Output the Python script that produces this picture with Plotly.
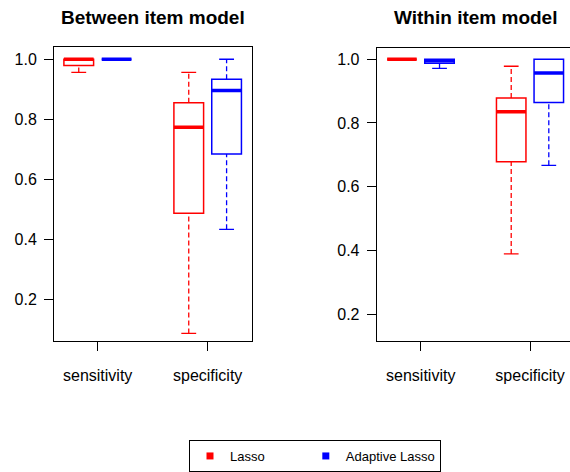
import plotly.graph_objects as go

# Box-plot summaries (lower whisker, Q1, median, Q3, upper whisker)
categories = ["sensitivity", "specificity"]
methods = ["Lasso", "Adaptive Lasso"]
colors = {"Lasso": "#ff0000", "Adaptive Lasso": "#0000ff"}

between_lasso_low = [0.956, 0.086]
between_lasso_q1 = [0.979, 0.487]
between_lasso_med = [1.000, 0.773]
between_lasso_q3 = [1.000, 0.855]
between_lasso_high = [1.000, 0.956]

between_alasso_low = [1.000, 0.433]
between_alasso_q1 = [1.000, 0.684]
between_alasso_med = [1.000, 0.896]
between_alasso_q3 = [1.000, 0.933]
between_alasso_high = [1.000, 1.000]

within_lasso_low = [1.000, 0.389]
within_lasso_q1 = [1.000, 0.678]
within_lasso_med = [1.000, 0.835]
within_lasso_q3 = [1.000, 0.878]
within_lasso_high = [1.000, 0.978]

within_alasso_low = [0.971, 0.667]
within_alasso_q1 = [0.987, 0.864]
within_alasso_med = [0.995, 0.957]
within_alasso_q3 = [1.000, 1.000]
within_alasso_high = [1.000, 1.000]

panel_titles = ["Between item model", "Within item model"]
y_ticks = [0.2, 0.4, 0.6, 0.8, 1.0]

panels = [
    {
        "Lasso": (between_lasso_low, between_lasso_q1, between_lasso_med,
                  between_lasso_q3, between_lasso_high),
        "Adaptive Lasso": (between_alasso_low, between_alasso_q1, between_alasso_med,
                           between_alasso_q3, between_alasso_high),
    },
    {
        "Lasso": (within_lasso_low, within_lasso_q1, within_lasso_med,
                  within_lasso_q3, within_lasso_high),
        "Adaptive Lasso": (within_alasso_low, within_alasso_q1, within_alasso_med,
                           within_alasso_q3, within_alasso_high),
    },
]

FONT = "Liberation Sans, Arial, sans-serif"
W, H = 570, 472
offsets = {"Lasso": -0.172, "Adaptive Lasso": 0.172}
box_w = 0.27
cap_half = box_w / 4

fig = go.Figure()

for p, data in enumerate(panels):
    xa = "x" if p == 0 else "x2"
    ya = "y" if p == 0 else "y2"
    for m in methods:
        low, q1, med, q3, high = data[m]
        col = colors[m]
        xs = [i + 1 + offsets[m] for i in range(len(categories))]
        # box body (whiskers handled separately so they can be dashed)
        fig.add_trace(go.Box(
            x=xs, q1=q1, median=med, q3=q3, lowerfence=q1, upperfence=q3,
            width=box_w, fillcolor="rgba(0,0,0,0)",
            line=dict(color=col, width=1.5), xaxis=xa, yaxis=ya,
            showlegend=False, hoverinfo="skip", boxpoints=False,
        ))
        for x, lo, a, md, b, hi in zip(xs, low, q1, med, q3, high):
            # dashed whiskers
            wx, wy = [], []
            if lo < a:
                wx += [x, x, None]
                wy += [lo, a, None]
            if hi > b:
                wx += [x, x, None]
                wy += [b, hi, None]
            if wx:
                fig.add_trace(go.Scatter(
                    x=wx, y=wy, mode="lines", xaxis=xa, yaxis=ya,
                    line=dict(color=col, width=1.3, dash="5px,3px"),
                    showlegend=False, hoverinfo="skip"))
            # whisker caps
            cx, cy = [], []
            if lo < a:
                cx += [x - cap_half, x + cap_half, None]
                cy += [lo, lo, None]
            if hi > b:
                cx += [x - cap_half, x + cap_half, None]
                cy += [hi, hi, None]
            if cx:
                fig.add_trace(go.Scatter(
                    x=cx, y=cy, mode="lines", xaxis=xa, yaxis=ya,
                    line=dict(color=col, width=1.3),
                    showlegend=False, hoverinfo="skip"))
            # heavy median bar
            fig.add_trace(go.Scatter(
                x=[x - box_w / 2, x + box_w / 2], y=[md, md], mode="lines",
                xaxis=xa, yaxis=ya, line=dict(color=col, width=3.5),
                showlegend=False, hoverinfo="skip"))

# legend entries; the first label is padded so the two keys sit far apart
legend_pad = {"Lasso": "\u00a0" * 10, "Adaptive Lasso": ""}
for m in methods:
    fig.add_trace(go.Scatter(
        x=[None], y=[None], mode="markers", name=m + legend_pad[m],
        marker=dict(symbol="square", size=7, color=colors[m]),
        showlegend=True))

axis_common = dict(
    showline=True, linecolor="black", linewidth=1, mirror=True,
    ticks="outside", ticklen=9, tickcolor="black", tickwidth=1,
    showgrid=False, zeroline=False,
    tickfont=dict(family=FONT, size=16, color="black"),
)

fig.update_layout(
    width=W, height=H,
    margin=dict(l=0, r=0, t=0, b=0),
    paper_bgcolor="white", plot_bgcolor="white",
    font=dict(family=FONT, color="black"),
    xaxis=dict(domain=[54 / W, 252 / W], range=[0.603, 2.403],
               tickvals=[1, 2], ticktext=categories, anchor="y",
               ticklabelstandoff=11, **axis_common),
    yaxis=dict(domain=[1 - 345 / H, 1 - 48 / H], range=[0.062, 1.0395],
               tickvals=y_ticks, tickformat=".1f", anchor="x",
               ticklabelstandoff=4, **axis_common),
    xaxis2=dict(domain=[376.7 / W, 1.0], range=[0.597, 2.366],
                tickvals=[1, 2], ticktext=categories, anchor="y2",
                ticklabelstandoff=11, **axis_common),
    yaxis2=dict(domain=[1 - 345 / H, 1 - 49 / H], range=[0.117, 1.034],
                tickvals=y_ticks, tickformat=".1f", anchor="x2",
                ticklabelstandoff=4, **axis_common),
    legend=dict(
        orientation="h", x=189 / W, y=1 - 446 / H, xanchor="left", yanchor="top",
        bordercolor="black", borderwidth=1, bgcolor="white",
        font=dict(family=FONT, size=13, color="black"),
        itemwidth=30,
    ),
    annotations=[
        dict(text="<b>" + panel_titles[0] + "</b>", x=153 / W, y=1 - 18 / H,
             xref="paper", yref="paper", xanchor="center", yanchor="middle",
             showarrow=False, font=dict(family=FONT, size=19, color="black")),
        dict(text="<b>" + panel_titles[1] + "</b>", x=475 / W, y=1 - 18 / H,
             xref="paper", yref="paper", xanchor="center", yanchor="middle",
             showarrow=False, font=dict(family=FONT, size=19, color="black")),
    ],
)

fig.write_html("out.html")
